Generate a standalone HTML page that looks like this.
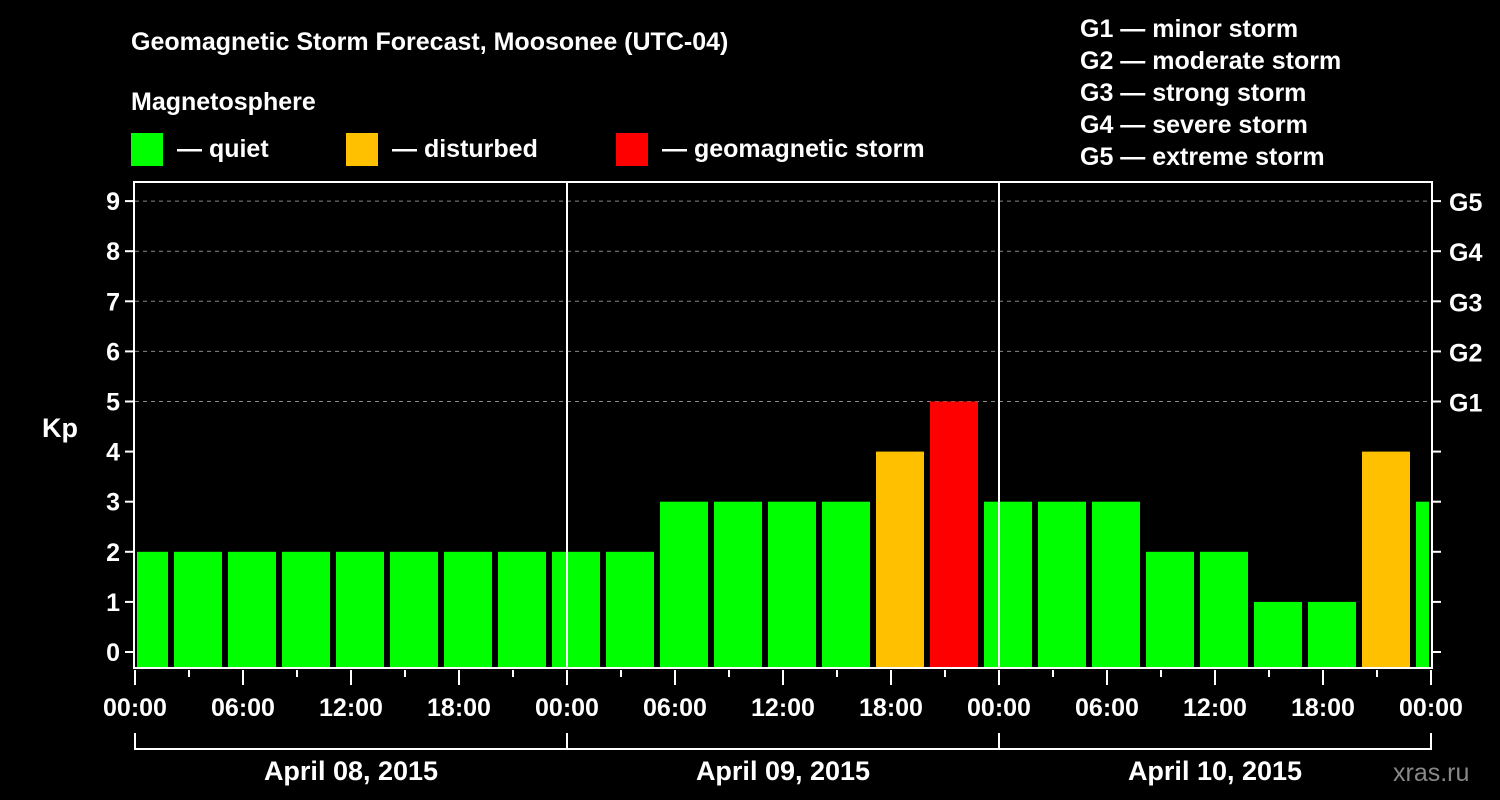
<!DOCTYPE html>
<html><head><meta charset="utf-8"><style>
html,body{margin:0;padding:0;background:#000;}
svg{display:block;font-family:"Liberation Sans",Arial,sans-serif;font-weight:bold;}
</style></head><body>
<svg id="chart" width="1500" height="800" viewBox="0 0 1500 800">
<rect width="1500" height="800" fill="#000"/>
<text x="131" y="50" fill="#fff" font-size="25">Geomagnetic Storm Forecast, Moosonee (UTC-04)</text>
<text x="131" y="110" fill="#fff" font-size="25">Magnetosphere</text>
<g>
<rect x="131" y="133" width="32" height="33" fill="#00ff00"/>
<text x="177" y="157" fill="#fff" font-size="25">— quiet</text>
<rect x="346" y="133" width="32" height="33" fill="#ffc000"/>
<text x="392" y="157" fill="#fff" font-size="25">— disturbed</text>
<rect x="616" y="133" width="32" height="33" fill="#ff0000"/>
<text x="662" y="157" fill="#fff" font-size="25">— geomagnetic storm</text>
</g>
<g fill="#fff" font-size="25">
<text x="1080" y="37">G1 — minor storm</text>
<text x="1080" y="69">G2 — moderate storm</text>
<text x="1080" y="101">G3 — strong storm</text>
<text x="1080" y="133">G4 — severe storm</text>
<text x="1080" y="165">G5 — extreme storm</text>
</g>
<text x="42" y="437" fill="#fff" font-size="27">Kp</text>
<text x="1393" y="781" fill="#888" font-size="25" font-weight="normal">xras.ru</text>
<g id="plot"></g>
</svg>
<script>
const kpValues=[2,2,2,2,2,2,2,2,2,2,3,3,3,3,4,5,3,3,3,2,2,1,1,4,3];
const yTicks=[0,1,2,3,4,5,6,7,8,9];
const gLabels=["G1","G2","G3","G4","G5"];
const gLevels=[5,6,7,8,9];
const hourLabels=["00:00","06:00","12:00","18:00","00:00","06:00","12:00","18:00","00:00","06:00","12:00","18:00","00:00"];
const dayLabels=["April 08, 2015","April 09, 2015","April 10, 2015"];
const firstBarStartHour=-1;

const L=135,R=1431,T=182,B=668;
const x=h=>L+(h/72)*(R-L);
const y=v=>652-v*50.1;
const NS="http://www.w3.org/2000/svg";
const g=document.getElementById('plot');
function el(tag,attrs,txt){const e=document.createElementNS(NS,tag);for(const k in attrs)e.setAttribute(k,attrs[k]);if(txt!==undefined)e.textContent=txt;g.appendChild(e);return e;}

// gridlines
gLevels.forEach((v,i)=>{
 const ln=el('line',{x1:L,x2:R,y1:y(v),y2:y(v),stroke:'#888','stroke-width':1,'stroke-dasharray':'4,4'});
 
 
});
// bars
kpValues.forEach((v,i)=>{
 let h0=firstBarStartHour+3*i,h1=h0+3;
 let x0=x(h0)+3,x1=x(h1)-3;
 if(h0<0)x0=x(0)+2;
 if(h1>72)x1=x(72)-2;
 const col=v>=5?'#ff0000':(v>=4?'#ffc000':'#00ff00');
 const r=el('rect',{x:x0,y:y(v),width:Math.max(0,x1-x0),height:B-y(v),fill:col});
 
 
});
// day separators
[24,48].forEach(h=>{
 const ln=el('line',{x1:x(h),x2:x(h),y1:T,y2:B,stroke:'#fff','stroke-width':2});
 
 
});
// frame
const fr=el('rect',{x:L-1,y:T,width:R-L+2,height:B-T,fill:'none',stroke:'#fff','stroke-width':2});


// y ticks
yTicks.forEach(v=>{
 el('line',{x1:L-10,x2:L,y1:y(v),y2:y(v),stroke:'#fff','stroke-width':2});
 el('line',{x1:R,x2:R+10,y1:y(v),y2:y(v),stroke:'#fff','stroke-width':2});
 const t=el('text',{x:L-15,y:y(v)+9,fill:'#fff','font-size':25,'text-anchor':'end'},String(v));
 
 
});
gLabels.forEach((s,i)=>{
 const t=el('text',{x:R+18,y:y(gLevels[i])+10,fill:'#fff','font-size':25},s);
 
 
});
// x ticks
for(let h=0;h<=72;h+=3){
 const long=h%6===0;
 el('line',{x1:x(h),x2:x(h),y1:B+2,y2:B+(long?17:9),stroke:'#fff','stroke-width':2});
}
hourLabels.forEach((s,i)=>{
 const t=el('text',{x:x(i*6),y:716,fill:'#fff','font-size':25,'text-anchor':'middle'},s);
 
 
});
// day brackets
const br=el('path',{d:`M${x(0)},733 V749 H${x(72)} V733 M${x(24)},733 V749 M${x(48)},733 V749`,stroke:'#fff','stroke-width':2,fill:'none'});


dayLabels.forEach((s,i)=>{
 const t=el('text',{x:x(i*24+12),y:780,fill:'#fff','font-size':27,'text-anchor':'middle'},s);
 
 
});
</script>
</body></html>
